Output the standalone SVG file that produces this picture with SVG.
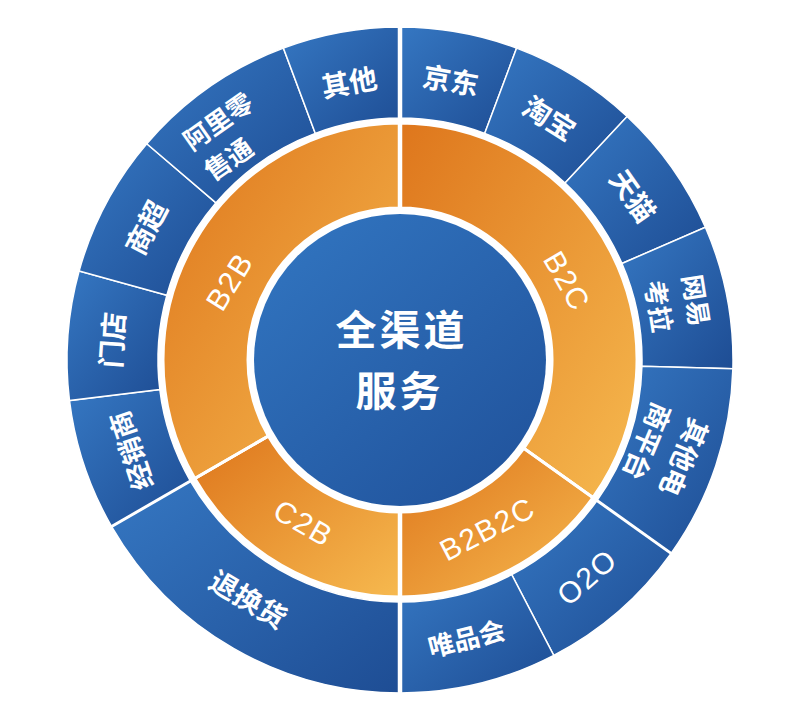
<svg xmlns="http://www.w3.org/2000/svg" width="800" height="710" viewBox="0 0 800 710">
<style>
.sb{fill:url(#gb);stroke:#fff;stroke-width:1.5}
.so{fill:url(#go);stroke:#fff;stroke-width:3}
.t{fill:#fff;font-family:"Noto Sans CJK SC","Noto Sans",sans-serif;font-weight:bold;font-size:28px;text-anchor:middle;dominant-baseline:central}
.s26{font-size:26px}
.s27{font-size:27px}
.lat{font-family:"Liberation Sans",Arial,sans-serif;font-weight:normal;font-size:30px;letter-spacing:1.5px}
.ctr{font-size:41px;letter-spacing:3px}
.dv{stroke:#fff;fill:none}
</style>
<defs>
<linearGradient id="gb" x1="0" y1="0" x2="1" y2="1"><stop offset="0" stop-color="#3577c2"/><stop offset="1" stop-color="#1e4d94"/></linearGradient>
<linearGradient id="go" x1="0" y1="0" x2="1" y2="1"><stop offset="0" stop-color="#de761c"/><stop offset="1" stop-color="#f6b94f"/></linearGradient>
<linearGradient id="gc" x1="0.15" y1="0.1" x2="0.9" y2="1"><stop offset="0" stop-color="#3072bd"/><stop offset="1" stop-color="#20529b"/></linearGradient>
</defs>
<rect width="800" height="710" fill="#fff"/>

<g id="jingdong"><path class="sb" d="M400,27 A333,333 0 0 1 516.62,48.09 L484.75,133.33 A242,242 0 0 0 400,118 Z"/><text class="t" transform="translate(451,79) rotate(10)">京东</text></g>
<g id="taobao"><path class="sb" d="M516.62,48.09 A333,333 0 0 1 627.11,116.46 L565.04,183.01 A242,242 0 0 0 484.75,133.33 Z"/><text class="t" transform="translate(550,117) rotate(32)">淘宝</text></g>
<g id="tmall"><path class="sb" d="M627.11,116.46 A333,333 0 0 1 705.38,227.22 L621.93,263.5 A242,242 0 0 0 565.04,183.01 Z"/><text class="t" transform="translate(634,195) rotate(55)">天猫</text></g>
<g id="kaola"><path class="sb" d="M705.38,227.22 A333,333 0 0 1 732.89,368.72 L641.92,366.34 A242,242 0 0 0 621.93,263.5 Z"/><g transform="translate(679,303) rotate(81)"><text class="t s26" y="-19">网易</text><text class="t s26" y="19">考拉</text></g></g>
<g id="other-ec"><path class="sb" d="M732.89,368.72 A333,333 0 0 1 671.1,553.37 L597.02,500.53 A242,242 0 0 0 641.92,366.34 Z"/><g transform="translate(667,450) rotate(113)"><text class="t s27" y="-20">其他电</text><text class="t s27" y="20">商平台</text></g></g>
<g id="o2o"><path class="sb" d="M671.1,553.37 A333,333 0 0 1 553.76,655.37 L511.74,574.66 A242,242 0 0 0 597.02,500.53 Z"/><text class="t lat" transform="translate(587,577) rotate(-41)">O2O</text></g>
<g id="vip"><path class="sb" d="M553.76,655.37 A333,333 0 0 1 400,693 L400,602 A242,242 0 0 0 511.74,574.66 Z"/><text class="t s26" transform="translate(466,637) rotate(-14)">唯品会</text></g>
<g id="returns"><path class="sb" d="M400,693 A333,333 0 0 1 111.61,526.5 L190.42,481 A242,242 0 0 0 400,602 Z"/><text class="t" transform="translate(249,598) rotate(31)">退换货</text></g>
<g id="dealer"><path class="sb" d="M111.61,526.5 A333,333 0 0 1 69.48,400.58 L159.8,389.49 A242,242 0 0 0 190.42,481 Z"/><text class="t s27" transform="translate(130,451) rotate(-108.5)">经销商</text></g>
<g id="store"><path class="sb" d="M69.48,400.58 A333,333 0 0 1 79.11,271.01 L166.8,295.33 A242,242 0 0 0 159.8,389.49 Z"/><text class="t" transform="translate(111,340) rotate(-86)">门店</text></g>
<g id="market"><path class="sb" d="M79.11,271.01 A333,333 0 0 1 146.78,143.73 L215.98,202.83 A242,242 0 0 0 166.8,295.33 Z"/><text class="t" transform="translate(145,227) rotate(-62)">商超</text></g>
<g id="lst"><path class="sb" d="M146.78,143.73 A333,333 0 0 1 283.38,48.09 L315.25,133.33 A242,242 0 0 0 215.98,202.83 Z"/><g transform="translate(217,120) rotate(-35)"><text class="t s26" x="-39" y="0" style="text-anchor:start">阿里零</text><text class="t s26" x="-39" y="37" style="text-anchor:start">售通</text></g></g>
<g id="other"><path class="sb" d="M283.38,48.09 A333,333 0 0 1 400,27 L400,118 A242,242 0 0 0 315.25,133.33 Z"/><text class="t" transform="translate(349,81) rotate(-10)">其他</text></g>

<g id="b2c"><path class="so" d="M400,123 A237,237 0 0 1 592.95,497.63 L523.75,448.27 A152,152 0 0 0 400,208 Z"/><text class="t lat" transform="translate(567,281) rotate(60)">B2C</text></g>
<g id="b2b2c"><path class="so" d="M592.95,497.63 A237,237 0 0 1 400,597 L400,512 A152,152 0 0 0 523.75,448.27 Z"/><text class="t lat" transform="translate(487.5,529) rotate(-27.5)">B2B2C</text></g>
<g id="c2b"><path class="so" d="M400,597 A237,237 0 0 1 194.75,478.5 L268.36,436 A152,152 0 0 0 400,512 Z"/><text class="t lat" transform="translate(303.5,523) rotate(30)">C2B</text></g>
<g id="b2b"><path class="so" d="M194.75,478.5 A237,237 0 0 1 400,123 L400,208 A152,152 0 0 0 268.36,436 Z"/><text class="t lat" transform="translate(229.5,281.5) rotate(-58)">B2B</text></g>

<g id="dividers">
<line class="dv" stroke-width="4.5" x1="400" y1="212" x2="400" y2="22"/>
<line class="dv" stroke-width="4.5" x1="400" y1="508" x2="400" y2="698"/>
<line class="dv" stroke-width="3" x1="522.12" y1="447.1" x2="673.54" y2="555.12"/>
<line class="dv" stroke-width="3" x1="270.1" y1="435" x2="109.01" y2="528"/>
</g>

<g id="center"><circle cx="400" cy="360" r="146" fill="url(#gc)"/><text class="t ctr"><tspan x="401.5" y="327">全渠道</tspan><tspan x="399.5" y="388">服务</tspan></text></g>
</svg>
